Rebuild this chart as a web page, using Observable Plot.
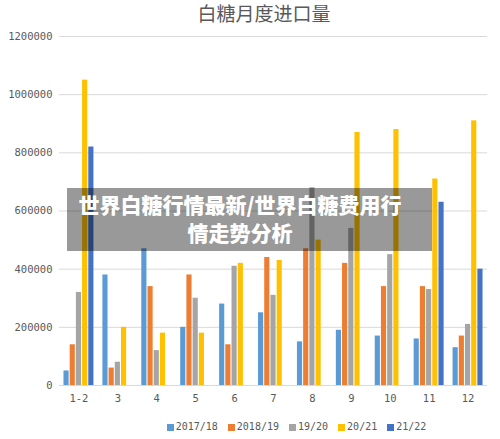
<!DOCTYPE html>
<html>
<head>
<meta charset="utf-8">
<script src="https://cdn.jsdelivr.net/npm/d3@7"></script>
<script src="https://cdn.jsdelivr.net/npm/@observablehq/plot@0.6"></script>
<style>
  html, body { margin: 0; padding: 0; background: #fff; }
  #wrap { position: relative; width: 500px; height: 439px; overflow: hidden; }
  #title { height: 26px; line-height: 26px; text-align: center; padding-left: 28px; box-sizing: border-box;
           font-family: "Noto Sans CJK SC", sans-serif; font-size: 19px; color: #595959; }
  #legend { display: flex; justify-content: center; padding-left: 93px; box-sizing: border-box; width: 500px;
            padding-top: 12px; line-height: 16px; font-family: "DejaVu Sans Mono", monospace; font-size: 10px; color: #595959; }
  #legend .item { display: flex; align-items: center; margin-right: 10px; }
  #legend .item:last-child { margin-right: 0; }
  #legend .sw { width: 7px; height: 7px; margin-right: 2px; }
  #banner { position: absolute; left: 67px; top: 188px; width: 365px; height: 63px; background: rgba(0,0,0,0.4);
            color: #fff; font-family: "Noto Sans CJK SC", sans-serif; font-weight: 900; font-size: 21px;
            line-height: 28px; text-align: center; padding: 2px 19px 0 0; box-sizing: border-box; white-space: nowrap; }
</style>
</head>
<body>
<div id="wrap">
  <div id="title">白糖月度进口量</div>
  <div id="chart"></div>
  <div id="legend"></div>
  <div id="banner">世界白糖行情最新/世界白糖费用行<br>情走势分析</div>
</div>
<script>
const months = ["1-2", "3", "4", "5", "6", "7", "8", "9", "10", "11", "12"];
const seriesNames = ["2017/18", "2018/19", "19/20", "20/21", "21/22"];
const seriesColors = ["#5B9BD5", "#ED7D31", "#A5A5A5", "#FFC000", "#4472C4"];
const v1718 = [50000, 380000, 470000, 200000, 280000, 250000, 150000, 190000, 170000, 160000, 130000];
const v1819 = [140000, 60000, 340000, 380000, 140000, 440000, 470000, 420000, 340000, 340000, 170000];
const v1920 = [320000, 80000, 120000, 300000, 410000, 310000, 680000, 540000, 450000, 330000, 210000];
const v2021 = [1050000, 200000, 180000, 180000, 420000, 430000, 500000, 870000, 880000, 710000, 910000];
const v2122 = [820000, null, null, null, null, null, null, null, null, 630000, 400000];
const yTicks = [0, 200000, 400000, 600000, 800000, 1000000, 1200000];

const allSeries = [v1718, v1819, v1920, v2021, v2122];
const data = [];
months.forEach((m, i) => {
  allSeries.forEach((vals, s) => {
    if (vals[i] != null) data.push({month: m, series: seriesNames[s], value: vals[i]});
  });
});

const chart = Plot.plot({
  width: 500,
  height: 381,
  marginTop: 10,
  marginLeft: 59,
  marginRight: 13,
  marginBottom: 22,
  style: {fontFamily: "DejaVu Sans Mono, monospace", fontSize: "10.5px", color: "#595959", background: "#fff"},
  fx: {domain: months, paddingInner: 0.23, paddingOuter: 0.115, round: false, label: null, tickSize: 0, tickPadding: 9},
  x: {domain: seriesNames, paddingInner: 0.17, paddingOuter: 0, round: false, axis: null},
  y: {domain: [0, 1200000], ticks: yTicks, tickSize: 0, tickPadding: 11.5, label: null, tickFormat: d => String(d)},
  color: {domain: seriesNames, range: seriesColors},
  marks: [
    Plot.ruleY(yTicks, {stroke: "#D9D9D9", insetLeft: -4.6, insetRight: -4.6}),
    Plot.barY(data, {fx: "month", x: "series", y: "value", fill: "series"})
  ]
});
document.getElementById("chart").appendChild(chart);

const legend = document.getElementById("legend");
seriesNames.forEach((name, i) => {
  const item = document.createElement("div");
  item.className = "item";
  const sw = document.createElement("div");
  sw.className = "sw";
  sw.style.background = seriesColors[i];
  const t = document.createElement("span");
  t.textContent = name;
  item.appendChild(sw);
  item.appendChild(t);
  legend.appendChild(item);
});
</script>
</body>
</html>
